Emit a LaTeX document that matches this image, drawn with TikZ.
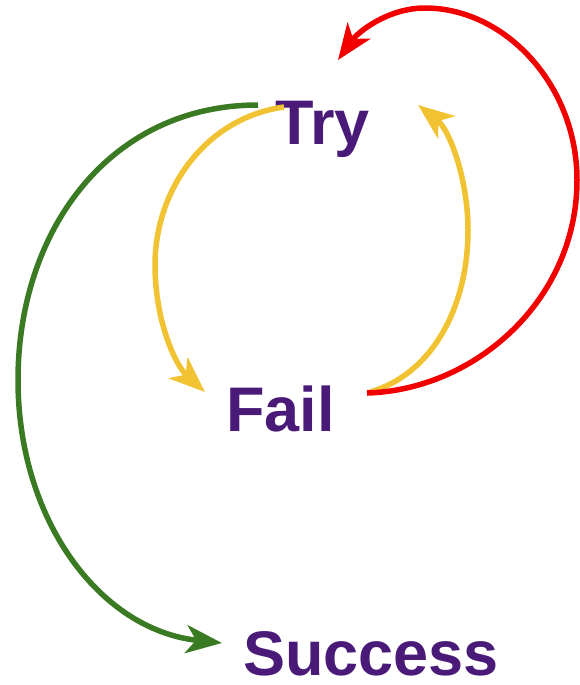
\documentclass[tikz,border=0pt]{standalone}
\usepackage{fontspec}
\setmainfont{Liberation Sans}
\usetikzlibrary{arrows.meta}
\definecolor{txtpurple}{HTML}{4A1A78}
\definecolor{cred}{HTML}{F20000}
\definecolor{cgreen}{HTML}{3A7A22}
\definecolor{cyellow}{HTML}{F1C232}
\begin{document}
\begin{tikzpicture}[x=1pt,y=-1pt,
  lbl/.style={anchor=base west,inner sep=0pt,text=txtpurple,font=\fontsize{63}{70}\selectfont\bfseries},
  conn/.style={line width=5.5pt,-{Stealth[length=36pt,width=28pt,inset=10pt]}}]
\useasboundingbox (0,0) rectangle (579,685);
\node[lbl] (try) at (275,144) {Try};
\node[lbl] (fail) at (226,431) {Fail};
\node[lbl] (succ) at (243,675) {Success};
\coordinate (gs) at (258,105);
\coordinate (ge) at (222,643);
\coordinate (yls) at (284,107);
\coordinate (yle) at (205,392);
\coordinate (yrs) at (370,392);
\coordinate (yre) at (418,105);
\coordinate (rs) at (367,393);
\coordinate (re) at (338,60);
\draw[conn,cyellow] (yls) .. controls (205,118) and (155,190) .. (155,265) .. controls (155,320) and (175,365) .. (yle);
\draw[conn,cyellow] (yrs) .. controls (430,375) and (468,310) .. (468,230) .. controls (468,180) and (450,130) .. (yre);
\draw[conn,cgreen] (gs) .. controls (110,105) and (18,230) .. (18,380) .. controls (18,520) and (100,630) .. (ge);
\draw[conn,cred] (rs) .. controls (475,390) and (577,300) .. (577,180) .. controls (577,85) and (505,8) .. (425,8) .. controls (388,8) and (358,32) .. (re);
\end{tikzpicture}
\end{document}
